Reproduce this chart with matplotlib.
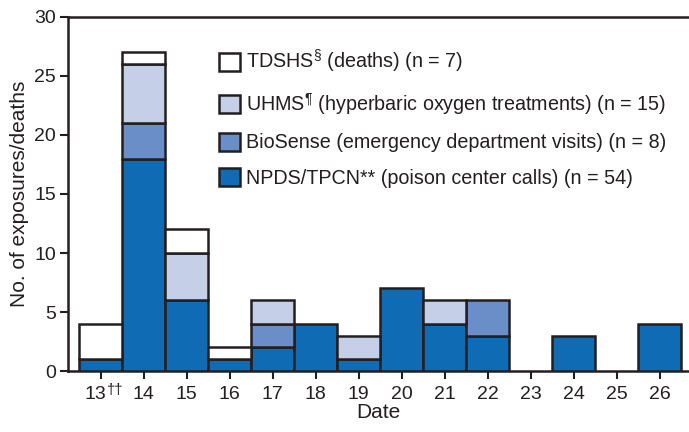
import numpy as np
import matplotlib
matplotlib.use('Agg')
import matplotlib.pyplot as plt
import matplotlib.transforms as mtransforms
from matplotlib.patches import Patch

plt.rcParams['font.family'] = ['Liberation Sans', 'DejaVu Sans']
plt.rcParams['mathtext.fontset'] = 'custom'
plt.rcParams['mathtext.rm'] = 'Liberation Sans'
plt.rcParams['mathtext.it'] = 'Liberation Sans'

dates = [13, 14, 15, 16, 17, 18, 19, 20, 21, 22, 23, 24, 25, 26]
date_labels = ['13', '14', '15', '16', '17', '18', '19', '20',
               '21', '22', '23', '24', '25', '26']
npds = [1, 18, 6, 1, 2, 4, 1, 7, 4, 3, 0, 3, 0, 4]
biosense = [0, 3, 0, 0, 2, 0, 0, 0, 0, 3, 0, 0, 0, 0]
uhms = [0, 5, 4, 0, 2, 0, 2, 0, 2, 0, 0, 0, 0, 0]
tdshs = [3, 1, 2, 1, 0, 0, 0, 0, 0, 0, 0, 0, 0, 0]

series = [
    (npds, '#0F6BB3', 'NPDS/TPCN** (poison center calls) (n = 54)'),
    (biosense, '#6A8FC8', 'BioSense (emergency department visits) (n = 8)'),
    (uhms, '#C5D0E8', 'UHMS$^{\\P}$ (hyperbaric oxygen treatments) (n = 15)'),
    (tdshs, '#FFFFFF', 'TDSHS$^{\\S}$ (deaths) (n = 7)'),
]
edge = '#231F20'

fig = plt.figure(figsize=(6.89, 4.32), dpi=100)
ax = fig.add_axes([0.0994, 0.141, 0.9006, 0.820])

x = np.array(dates)
bottom = np.zeros(len(dates))
handles = []
for vals, col, lab in series:
    v = np.array(vals, dtype=float)
    mask = v > 0
    ax.bar(x[mask], v[mask], width=1.0, bottom=bottom[mask], color=col,
           edgecolor=edge, linewidth=1.8, zorder=3)
    bottom += v
    handles.append(Patch(facecolor=col, edgecolor=edge, linewidth=1.8, label=lab))

ax.set_xlim(12.25, 26.686)
ax.set_ylim(0, 30)
ax.set_yticks([0, 5, 10, 15, 20, 25, 30])
ax.set_xticks(dates)
ax.set_xticklabels(date_labels)
ax.tick_params(axis='both', direction='out', length=6, width=1.5,
               color=edge, labelsize=14, labelcolor='#231F20')
ax.tick_params(axis='x', pad=5)
ax.tick_params(axis='y', pad=3)
ax.spines['right'].set_visible(False)
for s in ['left', 'top', 'bottom']:
    ax.spines[s].set_linewidth(1.8)
    ax.spines[s].set_color(edge)
ax.set_xlabel('Date', fontsize=15, color='#231F20', labelpad=0)
ax.set_ylabel('No. of exposures/deaths', fontsize=15, color='#231F20', labelpad=4)

# shift the first label left to make room for the footnote mark
first = ax.get_xticklabels()[0]
first.set_transform(first.get_transform() +
                    mtransforms.ScaledTranslation(-5 / 100, 0, fig.dpi_scale_trans))
ax.annotate('\u2020\u2020', xy=(13, 0), xycoords=('data', 'axes fraction'),
            xytext=(4.3, -8.5), textcoords='offset points', fontsize=10.5,
            color='#231F20', ha='left', va='top')

leg = ax.legend(handles=handles[::-1], loc='upper left',
                bbox_to_anchor=(0.242, 0.912), frameon=False, fontsize=14.25,
                borderaxespad=0, borderpad=0, handlelength=1.1,
                handleheight=1.0, handletextpad=0.3, labelspacing=0.8)
for t in leg.get_texts():
    t.set_color('#231F20')

fig.savefig('out.png', dpi=100)
